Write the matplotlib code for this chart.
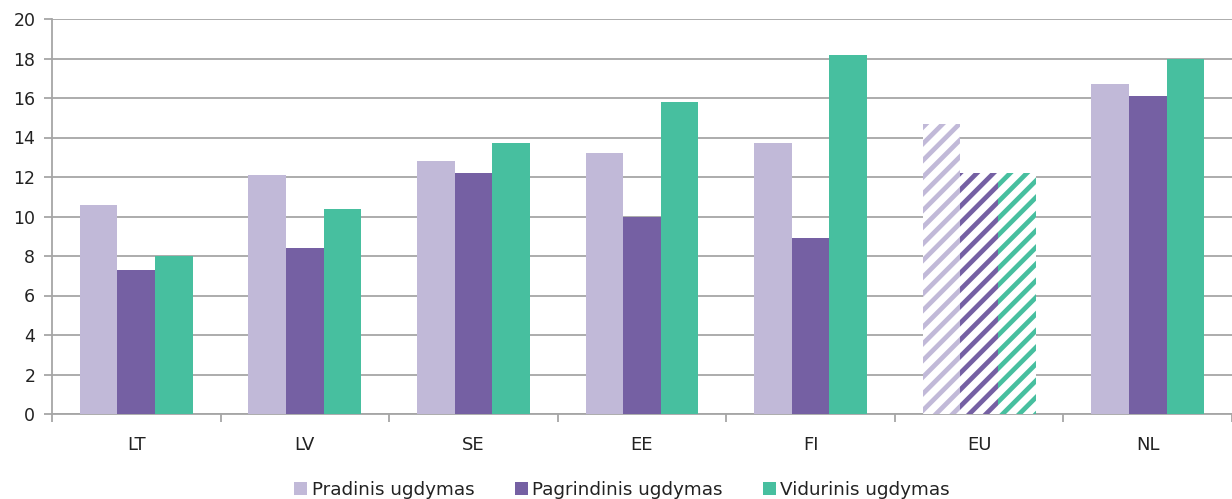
import matplotlib.pyplot as plt
import numpy as np
from matplotlib.patches import Patch

categories = ["LT", "LV", "SE", "EE", "FI", "EU", "NL"]
pradinis = [10.6, 12.1, 12.8, 13.2, 13.7, 14.7, 16.7]
pagrindinis = [7.3, 8.4, 12.2, 10.0, 8.9, 12.2, 16.1]
vidurinis = [8.0, 10.4, 13.7, 15.8, 18.2, 12.2, 18.0]
series_names = ["Pradinis ugdymas", "Pagrindinis ugdymas", "Vidurinis ugdymas"]
colors = ["#c1b9d8", "#7560a3", "#47bf9f"]
hatched = ["EU"]

plt.rcParams['font.family'] = ['DejaVu Sans']
plt.rcParams['hatch.linewidth'] = 3.4

fig = plt.figure(figsize=(12.32, 4.99), dpi=100)
ax = fig.add_axes([52/1232, 1-414/499, 1-52/1232, 395/499])

x = np.arange(len(categories))
w = 0.223
for i, (vals, col) in enumerate(zip([pradinis, pagrindinis, vidurinis], colors)):
    for j, v in enumerate(vals):
        xi = x[j] + (i-1)*w
        if categories[j] in hatched:
            ax.bar(xi, v, w, facecolor="white", edgecolor=col, hatch="//", linewidth=0, zorder=3)
        else:
            ax.bar(xi, v, w, color=col, linewidth=0, zorder=3)

ax.set_xlim(-0.5, len(categories)-0.5)
ax.set_ylim(0, 20)
ax.set_yticks(np.arange(0, 21, 2))
ax.yaxis.grid(True, color="#a6a6a6", linewidth=1.3, zorder=0)
ax.set_axisbelow(True)
for s in ["top", "right"]:
    ax.spines[s].set_visible(False)
for s in ["left", "bottom"]:
    ax.spines[s].set_color("#a6a6a6")
    ax.spines[s].set_linewidth(1.3)

ax.set_xticks(x)
ax.set_xticklabels(categories)
ax.set_xticks(np.arange(-0.5, len(categories), 1), minor=True)
ax.tick_params(axis="x", which="major", length=0, pad=16, labelsize=13, colors="#222222")
ax.tick_params(axis="x", which="minor", length=6, width=1.3, color="#a6a6a6")
ax.tick_params(axis="y", length=6, width=1.3, color="#a6a6a6", labelsize=12.5, labelcolor="#222222", pad=6)

handles = [Patch(facecolor=c, edgecolor="none") for c in colors]
fig.legend(handles, series_names, loc="center", bbox_to_anchor=(0.505, 0.018),
           ncol=3, frameon=False, fontsize=13.2, handlelength=0.7, handleheight=0.7,
           handletextpad=0.25, columnspacing=2.2, labelcolor="#222222")

fig.savefig("out.png", dpi=100)
